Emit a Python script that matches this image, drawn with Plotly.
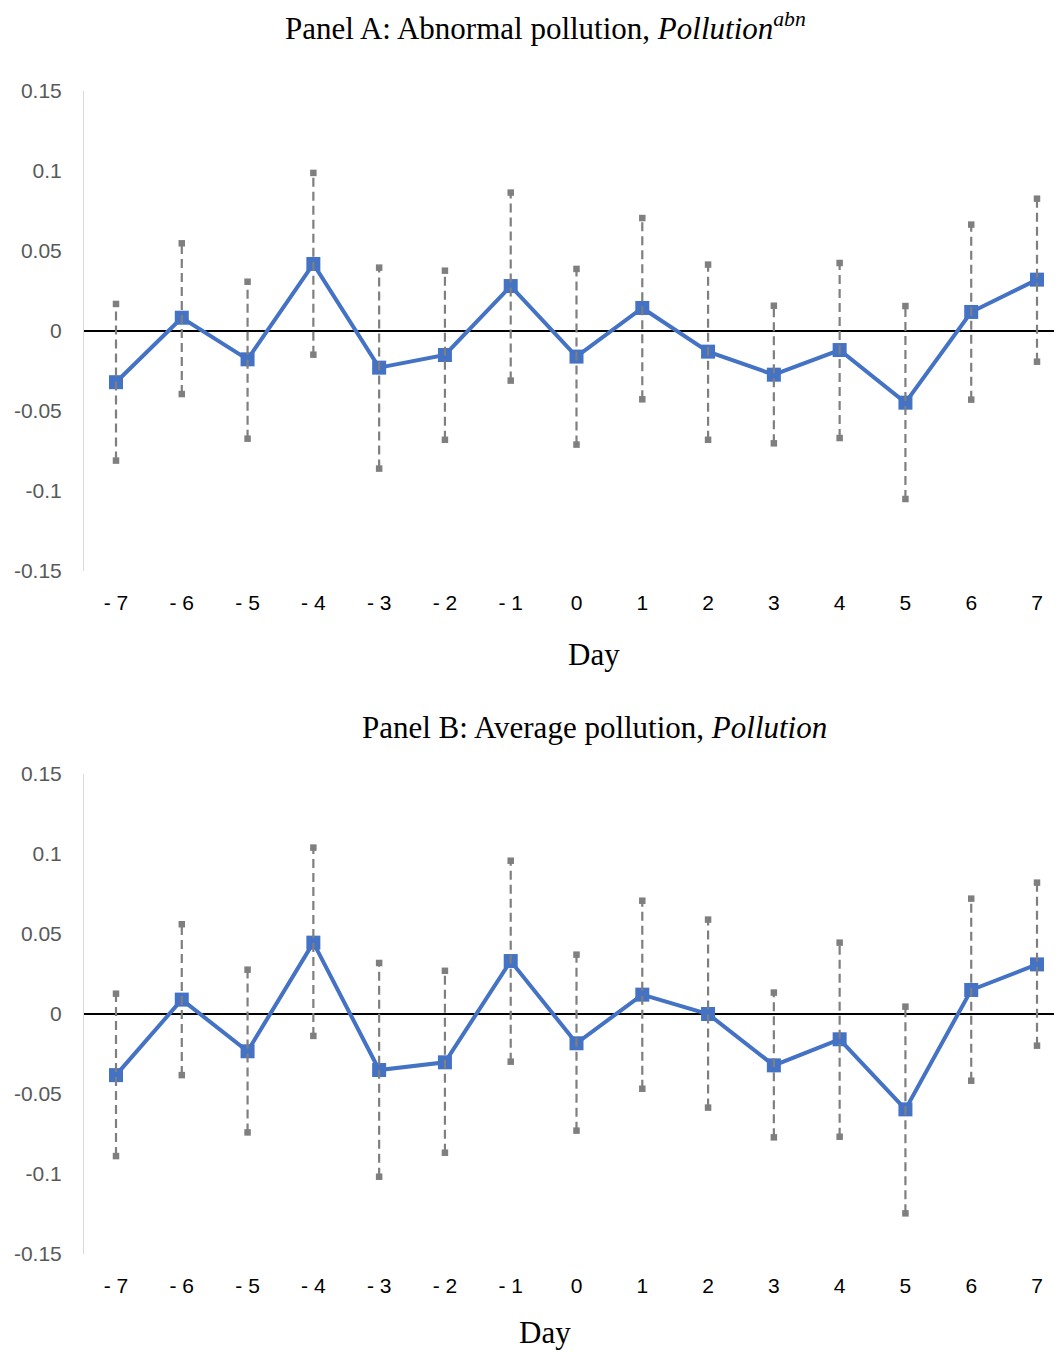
import plotly.graph_objects as go

days = [-7, -6, -5, -4, -3, -2, -1, 0, 1, 2, 3, 4, 5, 6, 7]
day_labels = ["- 7", "- 6", "- 5", "- 4", "- 3", "- 2", "- 1", "0", "1", "2", "3", "4", "5", "6", "7"]

# Panel A: abnormal pollution
a_coef = [-0.032, 0.0083, -0.0177, 0.0419, -0.0229, -0.015, 0.0281, -0.016, 0.0144, -0.0129, -0.0273, -0.0119, -0.0448, 0.0119, 0.0321]
a_upper = [0.0169, 0.0548, 0.0308, 0.0988, 0.0396, 0.0377, 0.0865, 0.0388, 0.0706, 0.0415, 0.0158, 0.0425, 0.0156, 0.0665, 0.0827]
a_lower = [-0.081, -0.0394, -0.0673, -0.0148, -0.086, -0.068, -0.031, -0.071, -0.0427, -0.068, -0.0702, -0.0669, -0.105, -0.0429, -0.0192]

# Panel B: average pollution
b_coef = [-0.0382, 0.009, -0.0233, 0.0446, -0.035, -0.0302, 0.0331, -0.0183, 0.0121, 0.0, -0.0321, -0.0158, -0.0596, 0.015, 0.031]
b_upper = [0.0127, 0.0561, 0.0277, 0.104, 0.0319, 0.027, 0.0958, 0.0371, 0.0708, 0.059, 0.0134, 0.0446, 0.0046, 0.0721, 0.0821]
b_lower = [-0.0888, -0.0382, -0.074, -0.0137, -0.1017, -0.0867, -0.0298, -0.0729, -0.0467, -0.0585, -0.0771, -0.0767, -0.1246, -0.0417, -0.0198]

y_ticks = [0.15, 0.1, 0.05, 0, -0.05, -0.1, -0.15]
y_ticktext = ["0.15", "0.1", "0.05", "0", "-0.05", "-0.1", "-0.15"]

OFF = 8  # page body margin
W, H = 1062 - OFF, 1351 - OFF
BLUE = "#4472C4"
GRAY = "#7F7F7F"

fig = go.Figure()

panels = [
    (a_coef, a_upper, a_lower, "x", "y"),
    (b_coef, b_upper, b_lower, "x2", "y2"),
]
for coef, up, lo, xa, ya in panels:
    fig.add_trace(go.Scatter(
        x=days, y=coef, xaxis=xa, yaxis=ya, mode="lines+markers",
        line=dict(color=BLUE, width=4),
        marker=dict(symbol="square", size=14, color=BLUE),
        showlegend=False, hoverinfo="skip"))
    ex, ey = [], []
    for d, u, l in zip(days, up, lo):
        ex += [d, d, None]
        ey += [l, u, None]
    fig.add_trace(go.Scatter(
        x=ex, y=ey, xaxis=xa, yaxis=ya, mode="lines",
        line=dict(color=GRAY, width=2.2, dash="9px,5px"),
        showlegend=False, hoverinfo="skip"))
    fig.add_trace(go.Scatter(
        x=days + days, y=up + lo, xaxis=xa, yaxis=ya, mode="markers",
        marker=dict(symbol="square", size=6.5, color=GRAY),
        showlegend=False, hoverinfo="skip"))

def ypx(p):
    return 1 - (p - OFF) / H

def xpx(p):
    return (p - OFF) / W

xr = [-7 - (116 - 84) / 65.79, 7 + (1062 - 1037) / 65.79]
xaxis_common = dict(
    range=xr, tickvals=days, ticktext=day_labels, showgrid=False, zeroline=False,
    showline=False, ticks="", ticklabelstandoff=17, automargin=False,
    tickfont=dict(family="Liberation Sans, Arial, sans-serif", size=21, color="#000000"),
    domain=[xpx(84), 1.0])
yaxis_common = dict(
    range=[-0.15, 0.15], tickvals=y_ticks, ticktext=y_ticktext, showgrid=False,
    zeroline=True, zerolinecolor="#000000", zerolinewidth=1.5, automargin=False,
    showline=True, linecolor="#D9D9D9", linewidth=1, ticks="", ticklabelstandoff=17,
    tickfont=dict(family="Liberation Sans, Arial, sans-serif", size=21, color="#595959"))

fig.update_layout(
    width=W, height=H, margin=dict(l=0, r=0, t=0, b=0, autoexpand=False),
    paper_bgcolor="white", plot_bgcolor="white",
    xaxis=dict(**xaxis_common, anchor="y"),
    yaxis=dict(**yaxis_common, anchor="x", domain=[ypx(571), ypx(91)]),
    xaxis2=dict(**xaxis_common, anchor="y2"),
    yaxis2=dict(**yaxis_common, anchor="x2", domain=[ypx(1254), ypx(774)]),
)

serif = dict(family="Liberation Serif, Times New Roman, serif", size=31, color="#000000")
annots = [
    (545, 27, "Panel A: Abnormal pollution, <i>Pollution</i><sup><i>abn</i></sup>"),
    (594, 654, "Day"),
    (594, 727, "Panel B: Average pollution, <i>Pollution</i>"),
    (545, 1332, "Day"),
]
for x, y, t in annots:
    fig.add_annotation(x=xpx(x), y=ypx(y), xref="paper", yref="paper", text=t,
                       showarrow=False, font=serif, xanchor="center", yanchor="middle")

fig.write_html("out.html")
